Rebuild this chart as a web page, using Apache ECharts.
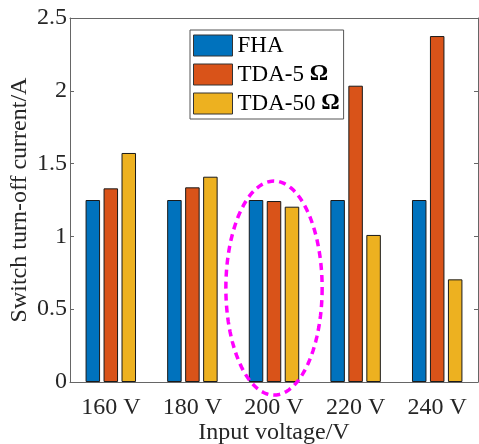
<!DOCTYPE html>
<html>
<head>
<meta charset="utf-8">
<script src="https://cdn.jsdelivr.net/npm/echarts@6/dist/echarts.min.js"></script>
<style>html,body{margin:0;padding:0;background:#fff;overflow:hidden;}#c{width:479px;height:444px;}</style>
</head>
<body>
<div id="c"></div>
<script>
const categories = ['160 V', '180 V', '200 V', '220 V', '240 V'];
const seriesNames = ['FHA', 'TDA-5 Ω', 'TDA-50 Ω'];
const fha = [1.25, 1.25, 1.25, 1.25, 1.25];
const tda5 = [1.33, 1.337, 1.243, 2.035, 2.376];
const tda50 = [1.573, 1.41, 1.204, 1.01, 0.705];
const yTicks = [0, 0.5, 1, 1.5, 2, 2.5];
// annotation ellipse (dashed) around the 200 V group: category index, centre value, half-height value
const ellipseCat = 2;
const ellipseCenterVal = 0.645;
const ellipseHalfVal = 0.735;

const font = "'Liberation Serif', 'Times New Roman', serif";
const txt = '#262626';
const axisCol = '#666';
const colors = ['#0072BD', '#D95319', '#EDB120'];

const chart = echarts.init(document.getElementById('c'), null, {renderer: 'canvas', width: 479, height: 444});
const mk = (name, data, i) => ({
  name, type: 'bar', data, xAxisIndex: 0, yAxisIndex: 0,
  barWidth: 14.5, barGap: '24%',
  itemStyle: {color: colors[i], borderColor: '#1a1a1a', borderWidth: 1},
  emphasis: {disabled: true}, animation: false
});
chart.setOption({
  animation: false,
  textStyle: {fontFamily: font},
  grid: {left: 70, right: 1, top: 18, bottom: 62, containLabel: false, outerBoundsMode: 'none'},
  legend: {
    orient: 'vertical', left: 190, top: 30,
    data: seriesNames.map(n => ({name: n, icon: 'rect'})),
    itemWidth: 39, itemHeight: 21, itemGap: 6,
    padding: [4, 4, 4, 3],
    backgroundColor: '#fff', borderColor: '#555', borderWidth: 1,
    itemStyle: {borderColor: '#333', borderWidth: 1},
    textStyle: {fontFamily: font, fontSize: 23, color: '#000',
      rich: {b: {fontFamily: font, fontSize: 23, fontWeight: 'bold', color: '#000'}}},
    formatter: n => n.replace('Ω', '{b|Ω}'),
    selectedMode: false
  },
  xAxis: [{
    type: 'category', data: categories, position: 'bottom',
    name: 'Input voltage/V', nameLocation: 'middle', nameGap: 39, nameMoveOverlap: false,
    nameTextStyle: {fontFamily: font, fontSize: 24, color: txt},
    axisLine: {lineStyle: {color: axisCol, width: 1}},
    axisTick: {inside: true, alignWithLabel: true, length: 4, lineStyle: {color: axisCol}},
    axisLabel: {fontFamily: font, fontSize: 24, color: txt, margin: 14},
    splitLine: {show: false}
  }, {
    type: 'category', data: categories, position: 'top',
    axisLine: {show: true, onZero: false, lineStyle: {color: axisCol, width: 1}},
    axisTick: {inside: true, alignWithLabel: true, length: 4, lineStyle: {color: axisCol}},
    axisLabel: {show: false}, splitLine: {show: false}
  }],
  yAxis: [{
    type: 'value', min: 0, max: 2.5, interval: 0.5, position: 'left',
    name: 'Switch turn-off current/A', nameLocation: 'middle', nameGap: 38, nameMoveOverlap: false,
    nameTextStyle: {fontFamily: font, fontSize: 24, color: txt},
    axisLine: {show: true, lineStyle: {color: axisCol, width: 1}},
    axisTick: {show: true, inside: true, length: 4, lineStyle: {color: axisCol}},
    axisLabel: {fontFamily: font, fontSize: 24, color: txt, margin: 3,
      formatter: v => (yTicks.indexOf(v) >= 0 ? String(v) : '')},
    splitLine: {show: false}
  }, {
    type: 'value', min: 0, max: 2.5, interval: 0.5, position: 'right',
    axisLine: {show: true, lineStyle: {color: axisCol, width: 1}},
    axisTick: {show: true, inside: true, length: 4, lineStyle: {color: axisCol}},
    axisLabel: {show: false}, splitLine: {show: false}
  }],
  series: [mk(seriesNames[0], fha, 0), mk(seriesNames[1], tda5, 1), mk(seriesNames[2], tda50, 2)]
});

// dashed ellipse annotation placed via the chart's own scales
const ctr = chart.convertToPixel({xAxisIndex: 0, yAxisIndex: 0}, [ellipseCat, ellipseCenterVal]);
const topPt = chart.convertToPixel({xAxisIndex: 0, yAxisIndex: 0}, [ellipseCat, ellipseCenterVal + ellipseHalfVal]);
const ry = ctr[1] - topPt[1];
const bw = chart.convertToPixel({xAxisIndex: 0}, 1) - chart.convertToPixel({xAxisIndex: 0}, 0);
const rx = bw * 0.59;
const pts = [];
for (let i = 0; i <= 120; i++) {
  const t = i / 120 * Math.PI * 2;
  pts.push([ctr[0] + rx * Math.cos(t), ctr[1] + ry * Math.sin(t)]);
}
chart.setOption({
  graphic: [{
    type: 'polyline', z: 100, silent: true,
    shape: {points: pts},
    style: {stroke: '#ff00ff', lineWidth: 3.5, lineDash: [7, 5], fill: null}
  }]
});
</script>
</body>
</html>
